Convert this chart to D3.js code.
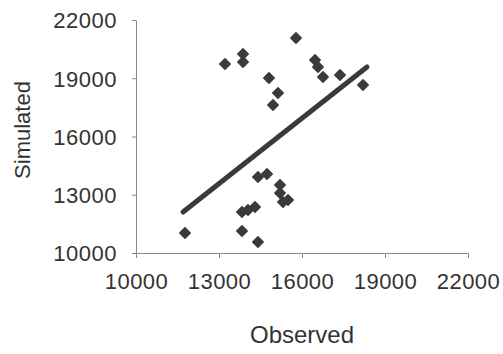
<!DOCTYPE html>
<html>
<head>
<meta charset="utf-8">
<script src="https://cdn.jsdelivr.net/npm/d3@7"></script>
<style>
  body { margin: 0; background: #fff; }
  text { font-family: "Liberation Sans", Arial, sans-serif; fill: #333; }
</style>
</head>
<body>
<svg id="chart" width="503" height="354"></svg>
<script>
// observed vs simulated values
const observed = [11771, 13217, 13867, 13867, 15783, 14807, 15132, 14952,
  16470, 16578, 16759, 17373, 18205, 14409, 14735, 15205, 15205, 15313,
  15494, 13831, 14048, 14301, 13831, 14409];
const simulated = [11030, 19734, 20249, 19837, 21073, 19013, 18240, 17622,
  19940, 19579, 19064, 19167, 18652, 13914, 14069, 13502, 13090, 12627,
  12730, 12112, 12215, 12369, 11133, 10567];

// trend line end points
const trendX = [11699, 18349];
const trendY = [12112, 19579];

const ticks = [10000, 13000, 16000, 19000, 22000];

const svg = d3.select('#chart');

const x = d3.scaleLinear().domain([10000, 22000]).range([136, 468]);
const y = d3.scaleLinear().domain([10000, 22000]).range([253, 20]);

// axes
const xAxis = svg.append('g')
  .attr('transform', 'translate(0,253)')
  .call(d3.axisBottom(x).tickValues(ticks).tickFormat(d3.format('d'))
    .tickSizeInner(5).tickSizeOuter(0).tickPadding(15));

const yAxis = svg.append('g')
  .attr('transform', 'translate(136,0)')
  .call(d3.axisLeft(y).tickValues(ticks).tickFormat(d3.format('d'))
    .tickSizeInner(4).tickSizeOuter(0).tickPadding(15));

[xAxis, yAxis].forEach(g => {
  g.select('.domain').attr('stroke', '#8a8a8a');
  g.selectAll('.tick line').attr('stroke', '#8a8a8a');
  g.selectAll('.tick text')
    .attr('fill', '#3c3c3c')
    .style('font-size', '22px')
    .style('letter-spacing', '0.5px')
    .style('font-family', '"Liberation Sans", Arial, sans-serif');
});
yAxis.selectAll('.tick text').attr('dy', '0.36em');

// trend line
svg.append('line')
  .attr('x1', x(trendX[0]))
  .attr('y1', y(trendY[0]))
  .attr('x2', x(trendX[1]))
  .attr('y2', y(trendY[1]))
  .attr('stroke', '#3a3a3a')
  .attr('stroke-width', 5)
  .attr('stroke-linecap', 'round');

// points
const diamond = d3.symbol().type(d3.symbolDiamond2).size(70);

svg.append('g')
  .selectAll('path')
  .data(observed.map((o, i) => [o, simulated[i]]))
  .join('path')
  .attr('d', diamond)
  .attr('transform', d => `translate(${x(d[0])},${y(d[1])})`)
  .attr('fill', '#3a3a3a')
  .attr('stroke', '#3a3a3a')
  .attr('stroke-width', 1.5)
  .attr('stroke-linejoin', 'round');

// axis titles
svg.append('text')
  .attr('x', 302)
  .attr('y', 343)
  .attr('text-anchor', 'middle')
  .attr('fill', '#3c3c3c')
  .style('font-size', '24px')
  .text('Observed');

svg.append('text')
  .attr('transform', 'translate(30,130) rotate(-90)')
  .attr('text-anchor', 'middle')
  .attr('fill', '#3c3c3c')
  .style('font-size', '22px')
  .text('Simulated');
</script>
</body>
</html>
